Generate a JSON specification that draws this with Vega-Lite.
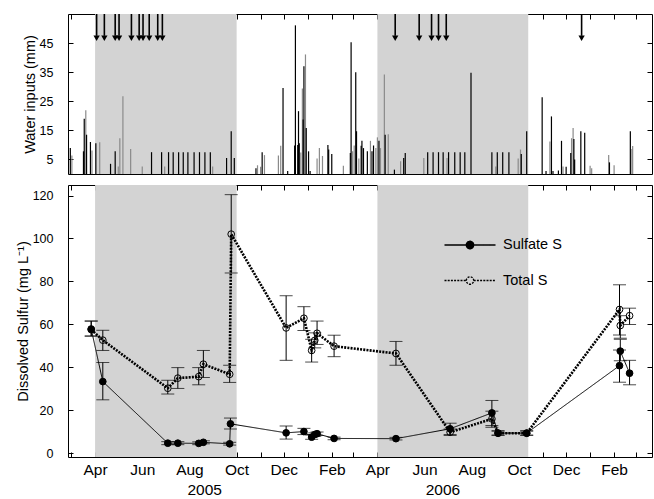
{
  "$schema": "https://vega.github.io/schema/vega-lite/v6.json",
  "padding": {"left": 14, "top": 12, "right": 0, "bottom": 0},
  "spacing": 8,
  "config": {
    "font": "Liberation Sans",
    "view": {"stroke": "black", "strokeWidth": 1},
    "axis": {"grid": false, "domain": false, "tickColor": "black", "tickSize": -5, "tickWidth": 1, "labelColor": "black", "titleColor": "black", "labelFont": "Liberation Sans", "titleFont": "Liberation Sans", "titleFontWeight": "normal"}
  },
  "datasets": {
    "periods": [
      {"start": "2005-04-01", "end": "2005-10-01"},
      {"start": "2006-04-01", "end": "2006-10-13"}
    ],
    "events": [
      {"date": "2005-04-03"}, {"date": "2005-04-13"}, {"date": "2005-04-27"}, {"date": "2005-05-02"}, {"date": "2005-05-18"},
      {"date": "2005-05-28"}, {"date": "2005-06-02"}, {"date": "2005-06-10"}, {"date": "2005-06-21"}, {"date": "2005-06-27"},
      {"date": "2006-04-24"}, {"date": "2006-05-25"}, {"date": "2006-06-10"}, {"date": "2006-06-19"}, {"date": "2006-06-29"},
      {"date": "2006-12-21"}
    ],
    "water": [
      {"date": "2005-03-02", "mm": 6.4, "gauge": "B"},
      {"date": "2005-03-20", "mm": 21.9, "gauge": "B"},
      {"date": "2005-03-28", "mm": 8.1, "gauge": "B"},
      {"date": "2005-04-07", "mm": 10.9, "gauge": "B"},
      {"date": "2005-05-01", "mm": 2.6, "gauge": "B"},
      {"date": "2005-05-03", "mm": 12.3, "gauge": "B"},
      {"date": "2005-05-07", "mm": 26.7, "gauge": "B"},
      {"date": "2005-05-17", "mm": 8.6, "gauge": "B"},
      {"date": "2005-06-01", "mm": 2.6, "gauge": "B"},
      {"date": "2005-06-30", "mm": 2.6, "gauge": "B"},
      {"date": "2005-08-31", "mm": 2.6, "gauge": "B"},
      {"date": "2005-10-28", "mm": 3.0, "gauge": "B"},
      {"date": "2005-11-01", "mm": 2.5, "gauge": "B"},
      {"date": "2005-11-06", "mm": 6.5, "gauge": "B"},
      {"date": "2005-11-24", "mm": 6.4, "gauge": "B"},
      {"date": "2005-11-27", "mm": 9.7, "gauge": "B"},
      {"date": "2005-12-23", "mm": 7.4, "gauge": "B"},
      {"date": "2005-12-25", "mm": 29.4, "gauge": "B"},
      {"date": "2005-12-29", "mm": 41.1, "gauge": "B"},
      {"date": "2006-01-13", "mm": 5.3, "gauge": "B"},
      {"date": "2006-01-16", "mm": 8.9, "gauge": "B"},
      {"date": "2006-01-20", "mm": 6.2, "gauge": "B"},
      {"date": "2006-02-16", "mm": 2.8, "gauge": "B"},
      {"date": "2006-02-28", "mm": 7.8, "gauge": "B"},
      {"date": "2006-03-02", "mm": 9.8, "gauge": "B"},
      {"date": "2006-03-08", "mm": 5.3, "gauge": "B"},
      {"date": "2006-03-23", "mm": 11.4, "gauge": "B"},
      {"date": "2006-03-30", "mm": 8.9, "gauge": "B"},
      {"date": "2006-04-01", "mm": 12.6, "gauge": "B"},
      {"date": "2006-04-05", "mm": 8.9, "gauge": "B"},
      {"date": "2006-04-10", "mm": 34.2, "gauge": "B"},
      {"date": "2006-04-15", "mm": 13.7, "gauge": "B"},
      {"date": "2006-05-01", "mm": 4.4, "gauge": "B"},
      {"date": "2006-05-31", "mm": 5.5, "gauge": "B"},
      {"date": "2006-06-30", "mm": 5.5, "gauge": "B"},
      {"date": "2006-09-01", "mm": 2.6, "gauge": "B"},
      {"date": "2006-09-30", "mm": 5.3, "gauge": "B"},
      {"date": "2006-10-03", "mm": 8.4, "gauge": "B"},
      {"date": "2006-11-10", "mm": 11.2, "gauge": "B"},
      {"date": "2006-11-27", "mm": 2.6, "gauge": "B"},
      {"date": "2006-12-08", "mm": 12.3, "gauge": "B"},
      {"date": "2006-12-10", "mm": 15.8, "gauge": "B"},
      {"date": "2007-01-01", "mm": 2.8, "gauge": "B"},
      {"date": "2007-01-03", "mm": 2.0, "gauge": "B"},
      {"date": "2007-01-25", "mm": 6.5, "gauge": "B"},
      {"date": "2007-02-01", "mm": 3.0, "gauge": "B"},
      {"date": "2007-02-24", "mm": 8.6, "gauge": "B"},
      {"date": "2007-02-25", "mm": 9.6, "gauge": "B"},
      {"date": "2005-02-28", "mm": 8.9, "gauge": "A"},
      {"date": "2005-03-17", "mm": 7.8, "gauge": "A"},
      {"date": "2005-03-18", "mm": 19.0, "gauge": "A"},
      {"date": "2005-03-21", "mm": 13.5, "gauge": "A"},
      {"date": "2005-03-26", "mm": 11.0, "gauge": "A"},
      {"date": "2005-04-02", "mm": 10.6, "gauge": "A"},
      {"date": "2005-04-21", "mm": 3.5, "gauge": "A"},
      {"date": "2005-04-27", "mm": 7.8, "gauge": "A"},
      {"date": "2005-06-13", "mm": 7.5, "gauge": "A"},
      {"date": "2005-06-26", "mm": 7.5, "gauge": "A"},
      {"date": "2005-07-05", "mm": 7.5, "gauge": "A"},
      {"date": "2005-07-11", "mm": 7.5, "gauge": "A"},
      {"date": "2005-07-18", "mm": 7.5, "gauge": "A"},
      {"date": "2005-07-24", "mm": 7.5, "gauge": "A"},
      {"date": "2005-07-30", "mm": 7.5, "gauge": "A"},
      {"date": "2005-08-07", "mm": 7.5, "gauge": "A"},
      {"date": "2005-08-14", "mm": 7.5, "gauge": "A"},
      {"date": "2005-08-21", "mm": 7.5, "gauge": "A"},
      {"date": "2005-08-28", "mm": 7.5, "gauge": "A"},
      {"date": "2005-09-18", "mm": 5.5, "gauge": "A"},
      {"date": "2005-09-24", "mm": 14.7, "gauge": "A"},
      {"date": "2005-09-28", "mm": 5.5, "gauge": "A"},
      {"date": "2005-10-26", "mm": 2.0, "gauge": "A"},
      {"date": "2005-11-03", "mm": 7.5, "gauge": "A"},
      {"date": "2005-11-30", "mm": 29.6, "gauge": "A"},
      {"date": "2005-12-06", "mm": 1.0, "gauge": "A"},
      {"date": "2005-12-15", "mm": 9.8, "gauge": "A"},
      {"date": "2005-12-16", "mm": 51.1, "gauge": "A"},
      {"date": "2005-12-19", "mm": 10.0, "gauge": "A"},
      {"date": "2005-12-20", "mm": 21.6, "gauge": "A"},
      {"date": "2005-12-21", "mm": 10.6, "gauge": "A"},
      {"date": "2005-12-26", "mm": 18.7, "gauge": "A"},
      {"date": "2005-12-27", "mm": 37.0, "gauge": "A"},
      {"date": "2005-12-30", "mm": 15.8, "gauge": "A"},
      {"date": "2006-01-02", "mm": 7.8, "gauge": "A"},
      {"date": "2006-01-04", "mm": 1.0, "gauge": "A"},
      {"date": "2006-01-27", "mm": 10.0, "gauge": "A"},
      {"date": "2006-01-28", "mm": 8.4, "gauge": "A"},
      {"date": "2006-02-01", "mm": 6.9, "gauge": "A"},
      {"date": "2006-02-25", "mm": 7.2, "gauge": "A"},
      {"date": "2006-02-26", "mm": 45.3, "gauge": "A"},
      {"date": "2006-03-04", "mm": 35.0, "gauge": "A"},
      {"date": "2006-03-05", "mm": 14.7, "gauge": "A"},
      {"date": "2006-03-11", "mm": 9.7, "gauge": "A"},
      {"date": "2006-03-12", "mm": 11.4, "gauge": "A"},
      {"date": "2006-03-14", "mm": 8.9, "gauge": "A"},
      {"date": "2006-03-19", "mm": 7.8, "gauge": "A"},
      {"date": "2006-03-25", "mm": 7.8, "gauge": "A"},
      {"date": "2006-03-27", "mm": 9.8, "gauge": "A"},
      {"date": "2006-04-03", "mm": 11.4, "gauge": "A"},
      {"date": "2006-04-11", "mm": 13.5, "gauge": "A"},
      {"date": "2006-04-23", "mm": 1.5, "gauge": "A"},
      {"date": "2006-05-05", "mm": 5.5, "gauge": "A"},
      {"date": "2006-05-07", "mm": 7.2, "gauge": "A"},
      {"date": "2006-06-05", "mm": 7.5, "gauge": "A"},
      {"date": "2006-06-12", "mm": 7.5, "gauge": "A"},
      {"date": "2006-06-19", "mm": 7.5, "gauge": "A"},
      {"date": "2006-06-25", "mm": 7.5, "gauge": "A"},
      {"date": "2006-07-02", "mm": 7.5, "gauge": "A"},
      {"date": "2006-07-10", "mm": 7.5, "gauge": "A"},
      {"date": "2006-07-17", "mm": 7.5, "gauge": "A"},
      {"date": "2006-07-23", "mm": 7.5, "gauge": "A"},
      {"date": "2006-07-31", "mm": 34.8, "gauge": "A"},
      {"date": "2006-08-27", "mm": 7.5, "gauge": "A"},
      {"date": "2006-09-03", "mm": 7.5, "gauge": "A"},
      {"date": "2006-09-10", "mm": 7.5, "gauge": "A"},
      {"date": "2006-09-18", "mm": 7.5, "gauge": "A"},
      {"date": "2006-10-04", "mm": 6.9, "gauge": "A"},
      {"date": "2006-10-11", "mm": 14.7, "gauge": "A"},
      {"date": "2006-10-31", "mm": 26.4, "gauge": "A"},
      {"date": "2006-11-05", "mm": 1.0, "gauge": "A"},
      {"date": "2006-11-12", "mm": 19.8, "gauge": "A"},
      {"date": "2006-11-14", "mm": 1.0, "gauge": "A"},
      {"date": "2006-11-21", "mm": 1.2, "gauge": "A"},
      {"date": "2006-11-25", "mm": 11.4, "gauge": "A"},
      {"date": "2006-12-01", "mm": 2.5, "gauge": "A"},
      {"date": "2006-12-07", "mm": 7.2, "gauge": "A"},
      {"date": "2006-12-11", "mm": 12.0, "gauge": "A"},
      {"date": "2006-12-12", "mm": 5.0, "gauge": "A"},
      {"date": "2006-12-20", "mm": 14.7, "gauge": "A"},
      {"date": "2006-12-25", "mm": 14.2, "gauge": "A"},
      {"date": "2007-01-26", "mm": 4.0, "gauge": "A"},
      {"date": "2007-02-22", "mm": 14.7, "gauge": "A"}
    ],
    "sulfur": [
      {"date": "2005-03-27", "series": "Sulfate S", "value": 57.8, "lo": 54.5, "hi": 61.5},
      {"date": "2005-04-11", "series": "Sulfate S", "value": 33.3, "lo": 24.8, "hi": 42.2},
      {"date": "2005-07-04", "series": "Sulfate S", "value": 4.6, "lo": 3.9, "hi": 5.3},
      {"date": "2005-07-17", "series": "Sulfate S", "value": 4.6, "lo": 3.9, "hi": 5.3},
      {"date": "2005-08-13", "series": "Sulfate S", "value": 4.5, "lo": 3.9, "hi": 5.2},
      {"date": "2005-08-19", "series": "Sulfate S", "value": 5.0, "lo": 4.3, "hi": 5.7},
      {"date": "2005-09-22", "series": "Sulfate S", "value": 4.3, "lo": 3.7, "hi": 5.0},
      {"date": "2005-09-23", "series": "Sulfate S", "value": 13.6, "lo": 11.2, "hi": 16.3},
      {"date": "2005-12-04", "series": "Sulfate S", "value": 9.4, "lo": 6.5, "hi": 12.6},
      {"date": "2005-12-27", "series": "Sulfate S", "value": 10.0, "lo": 8.6, "hi": 11.5},
      {"date": "2006-01-06", "series": "Sulfate S", "value": 7.4, "lo": 6.4, "hi": 8.4},
      {"date": "2006-01-10", "series": "Sulfate S", "value": 8.6, "lo": 7.8, "hi": 9.4},
      {"date": "2006-01-13", "series": "Sulfate S", "value": 9.0, "lo": 8.2, "hi": 9.8},
      {"date": "2006-02-04", "series": "Sulfate S", "value": 6.8, "lo": 6.2, "hi": 7.4},
      {"date": "2006-04-25", "series": "Sulfate S", "value": 6.7, "lo": 6.1, "hi": 7.3},
      {"date": "2006-07-04", "series": "Sulfate S", "value": 11.3, "lo": 8.6, "hi": 13.9},
      {"date": "2006-08-27", "series": "Sulfate S", "value": 18.7, "lo": 12.8, "hi": 24.5},
      {"date": "2006-09-04", "series": "Sulfate S", "value": 9.3, "lo": 8.3, "hi": 10.4},
      {"date": "2006-10-11", "series": "Sulfate S", "value": 9.3, "lo": 8.3, "hi": 10.4},
      {"date": "2007-02-08", "series": "Sulfate S", "value": 40.7, "lo": 33.0, "hi": 48.0},
      {"date": "2007-02-09", "series": "Sulfate S", "value": 47.5, "lo": 43.0, "hi": 53.0},
      {"date": "2007-02-21", "series": "Sulfate S", "value": 37.2, "lo": 31.8, "hi": 43.2},
      {"date": "2005-03-27", "series": "Total S", "value": 57.5, "lo": 54.5, "hi": 61.5},
      {"date": "2005-04-11", "series": "Total S", "value": 52.6, "lo": 47.8, "hi": 57.2},
      {"date": "2005-07-04", "series": "Total S", "value": 30.2, "lo": 27.5, "hi": 33.9},
      {"date": "2005-07-17", "series": "Total S", "value": 34.9, "lo": 30.1, "hi": 39.8},
      {"date": "2005-08-13", "series": "Total S", "value": 35.6, "lo": 31.8, "hi": 39.8},
      {"date": "2005-08-19", "series": "Total S", "value": 41.4, "lo": 35.2, "hi": 47.8},
      {"date": "2005-09-22", "series": "Total S", "value": 36.7, "lo": 32.9, "hi": 40.9},
      {"date": "2005-09-24", "series": "Total S", "value": 102.0, "lo": 83.9, "hi": 120.4},
      {"date": "2005-12-04", "series": "Total S", "value": 58.3, "lo": 43.2, "hi": 73.3},
      {"date": "2005-12-27", "series": "Total S", "value": 62.8, "lo": 57.1, "hi": 68.2},
      {"date": "2006-01-06", "series": "Total S", "value": 47.8, "lo": 42.4, "hi": 53.0},
      {"date": "2006-01-10", "series": "Total S", "value": 52.5, "lo": 49.0, "hi": 56.0},
      {"date": "2006-01-13", "series": "Total S", "value": 55.8, "lo": 50.6, "hi": 61.5},
      {"date": "2006-02-04", "series": "Total S", "value": 49.8, "lo": 44.9, "hi": 54.9},
      {"date": "2006-04-25", "series": "Total S", "value": 46.4, "lo": 40.9, "hi": 52.0},
      {"date": "2006-07-04", "series": "Total S", "value": 9.7, "lo": 8.2, "hi": 11.2},
      {"date": "2006-08-27", "series": "Total S", "value": 15.9, "lo": 12.0, "hi": 19.5},
      {"date": "2006-09-04", "series": "Total S", "value": 9.2, "lo": 8.3, "hi": 10.2},
      {"date": "2006-10-11", "series": "Total S", "value": 9.2, "lo": 8.3, "hi": 10.2},
      {"date": "2007-02-08", "series": "Total S", "value": 66.9, "lo": 55.0, "hi": 78.4},
      {"date": "2007-02-09", "series": "Total S", "value": 59.4, "lo": 53.5, "hi": 64.0},
      {"date": "2007-02-21", "series": "Total S", "value": 64.0, "lo": 59.9, "hi": 67.5}
    ]
  },
  "vconcat": [
    {
      "width": 584,
      "height": 160,
      "resolve": {"axis": {"x": "independent", "y": "independent"}},
      "layer": [
        {
          "data": {"name": "periods"},
          "mark": {"type": "rect", "color": "#d3d3d3"},
          "encoding": {
            "x": {"field": "start", "type": "temporal",
                  "scale": {"type": "utc", "domain": [{"year": 2005, "month": 2, "date": 25, "utc": true}, {"year": 2007, "month": 3, "date": 22, "utc": true}]},
                  "axis": {"orient": "top", "labels": false, "title": null, "tickCount": {"interval": "month", "step": 1}}},
            "x2": {"field": "end"}
          }
        },
        {
          "data": {"name": "water"},
          "transform": [{"filter": "datum.gauge === 'B'"}],
          "mark": {"type": "rule", "color": "#8a8a8a", "strokeWidth": 1.2},
          "encoding": {
            "x": {"field": "date", "type": "temporal", "axis": null,
                  "scale": {"type": "utc", "domain": [{"year": 2005, "month": 2, "date": 25, "utc": true}, {"year": 2007, "month": 3, "date": 22, "utc": true}]}},
            "y": {"field": "mm", "type": "quantitative", "scale": {"domain": [0, 55], "nice": false, "zero": false},
                  "axis": {"orient": "left", "title": "Water inputs (mm)", "values": [5, 15, 25, 35, 45], "labelFontSize": 12.5, "titleFontSize": 14.5, "labelPadding": 20, "titlePadding": 2}},
            "y2": {"datum": 0}
          }
        },
        {
          "data": {"name": "water"},
          "transform": [{"filter": "datum.gauge === 'A'"}],
          "mark": {"type": "rule", "color": "black", "strokeWidth": 1.2},
          "encoding": {
            "x": {"field": "date", "type": "temporal", "axis": null,
                  "scale": {"type": "utc", "domain": [{"year": 2005, "month": 2, "date": 25, "utc": true}, {"year": 2007, "month": 3, "date": 22, "utc": true}]}},
            "y": {"field": "mm", "type": "quantitative", "scale": {"domain": [0, 55], "nice": false, "zero": false},
                  "axis": {"orient": "right", "title": null, "labels": false, "values": [5, 15, 25, 35, 45]}},
            "y2": {"datum": 0}
          }
        },
        {
          "data": {"name": "events"},
          "mark": {"type": "rule", "color": "black", "strokeWidth": 1.6},
          "encoding": {
            "x": {"field": "date", "type": "temporal", "axis": null,
                  "scale": {"type": "utc", "domain": [{"year": 2005, "month": 2, "date": 25, "utc": true}, {"year": 2007, "month": 3, "date": 22, "utc": true}]}},
            "y": {"datum": 55, "type": "quantitative", "axis": null},
            "y2": {"datum": 47.5}
          }
        },
        {
          "data": {"name": "events"},
          "mark": {"type": "point", "shape": "triangle-down", "filled": true, "color": "black", "opacity": 1, "size": 40},
          "encoding": {
            "x": {"field": "date", "type": "temporal", "axis": null,
                  "scale": {"type": "utc", "domain": [{"year": 2005, "month": 2, "date": 25, "utc": true}, {"year": 2007, "month": 3, "date": 22, "utc": true}]}},
            "y": {"datum": 46.7, "type": "quantitative", "axis": null}
          }
        }
      ]
    },
    {
      "width": 584,
      "height": 272,
      "resolve": {"axis": {"x": "independent", "y": "independent"}},
      "layer": [
        {
          "data": {"name": "periods"},
          "mark": {"type": "rect", "color": "#d3d3d3"},
          "encoding": {
            "x": {"field": "start", "type": "temporal",
                  "scale": {"type": "utc", "domain": [{"year": 2005, "month": 2, "date": 25, "utc": true}, {"year": 2007, "month": 3, "date": 22, "utc": true}]},
                  "axis": {"orient": "bottom", "title": null, "tickCount": {"interval": "month", "step": 1},
                           "labelExpr": "utcmonth(datum.value) % 2 == 1 ? utcFormat(datum.value, '%b') : ''",
                           "labelFontSize": 15.5, "labelPadding": 10, "labelOverlap": false, "labelFlush": false}},
            "x2": {"field": "end"}
          }
        },
        {
          "data": {"name": "sulfur"},
          "mark": {"type": "errorbar", "color": "black", "ticks": {"size": 13, "thickness": 1, "color": "black"}, "rule": {"strokeWidth": 1, "color": "black"}},
          "encoding": {
            "x": {"field": "date", "type": "temporal", "axis": null,
                  "scale": {"type": "utc", "domain": [{"year": 2005, "month": 2, "date": 25, "utc": true}, {"year": 2007, "month": 3, "date": 22, "utc": true}]}},
            "y": {"field": "lo", "type": "quantitative", "scale": {"domain": [-1.85, 124.9], "nice": false, "zero": false}, "axis": null},
            "y2": {"field": "hi"}
          }
        },
        {
          "data": {"name": "sulfur"},
          "mark": {"type": "line", "color": "black"},
          "encoding": {
            "x": {"field": "date", "type": "temporal",
                  "scale": {"type": "utc", "domain": [{"year": 2005, "month": 2, "date": 25, "utc": true}, {"year": 2007, "month": 3, "date": 22, "utc": true}]},
                  "axis": {"orient": "top", "labels": false, "title": null, "tickCount": {"interval": "month", "step": 1}}},
            "y": {"field": "value", "type": "quantitative", "scale": {"domain": [-1.85, 124.9], "nice": false, "zero": false},
                  "axis": {"orient": "left", "title": "Dissolved Sulfur (mg L⁻¹)", "values": [0, 20, 40, 60, 80, 100, 120], "labelFontSize": 12.5, "titleFontSize": 14.5, "labelPadding": 20, "titlePadding": 2}},
            "strokeDash": {"field": "series", "type": "nominal",
                           "scale": {"domain": ["Sulfate S", "Total S"], "range": [[1, 0], [2, 1.2]]},
                           "legend": {"orient": "none", "legendX": 391, "legendY": 220, "title": null, "direction": "vertical",
                                      "symbolType": "M-2.55,0H-0.37M0.37,0H2.55M-0.37,0A0.37,0.37,0,1,1,0.37,0A0.37,0.37,0,1,1,-0.37,0Z",
                                      "symbolSize": 400, "symbolStrokeColor": "black", "symbolStrokeWidth": 1.4,
                                      "labelFontSize": 14.5, "labelColor": "black", "labelOffset": 22, "rowPadding": 17.5, "padding": 0}},
            "strokeWidth": {"condition": {"test": "datum.series === 'Total S'", "value": 2.6}, "value": 1}
          }
        },
        {
          "data": {"name": "sulfur"},
          "mark": {"type": "point", "stroke": "black", "strokeWidth": 1, "opacity": 1, "size": 45},
          "encoding": {
            "x": {"field": "date", "type": "temporal",
                  "scale": {"type": "utc", "domain": [{"year": 2005, "month": 2, "date": 25, "utc": true}, {"year": 2007, "month": 3, "date": 22, "utc": true}]},
                  "axis": {"orient": "bottom", "title": null, "ticks": false, "labelFontSize": 15.5, "labelPadding": 25,
                           "values": [{"year": 2005, "month": 8, "date": 20, "utc": true}, {"year": 2006, "month": 6, "date": 24, "utc": true}],
                           "labelExpr": "utcFormat(datum.value, '%Y')", "labelOverlap": false, "labelFlush": false}},
            "y": {"field": "value", "type": "quantitative", "scale": {"domain": [-1.85, 124.9], "nice": false, "zero": false},
                  "axis": {"orient": "right", "title": null, "labels": false, "values": [0, 20, 40, 60, 80, 100, 120]}},
            "fill": {"field": "series", "type": "nominal",
                     "scale": {"domain": ["Sulfate S", "Total S"], "range": ["black", "transparent"]},
                     "legend": {"orient": "none", "legendX": 391, "legendY": 220, "title": null, "direction": "vertical",
                                "symbolType": "M-2.55,0H-0.37M0.37,0H2.55M-0.37,0A0.37,0.37,0,1,1,0.37,0A0.37,0.37,0,1,1,-0.37,0Z",
                                "symbolSize": 400, "symbolStrokeColor": "black", "symbolStrokeWidth": 1.4,
                                "labelFontSize": 14.5, "labelColor": "black", "labelOffset": 22, "rowPadding": 17.5, "padding": 0}}
          }
        }
      ]
    }
  ]
}
